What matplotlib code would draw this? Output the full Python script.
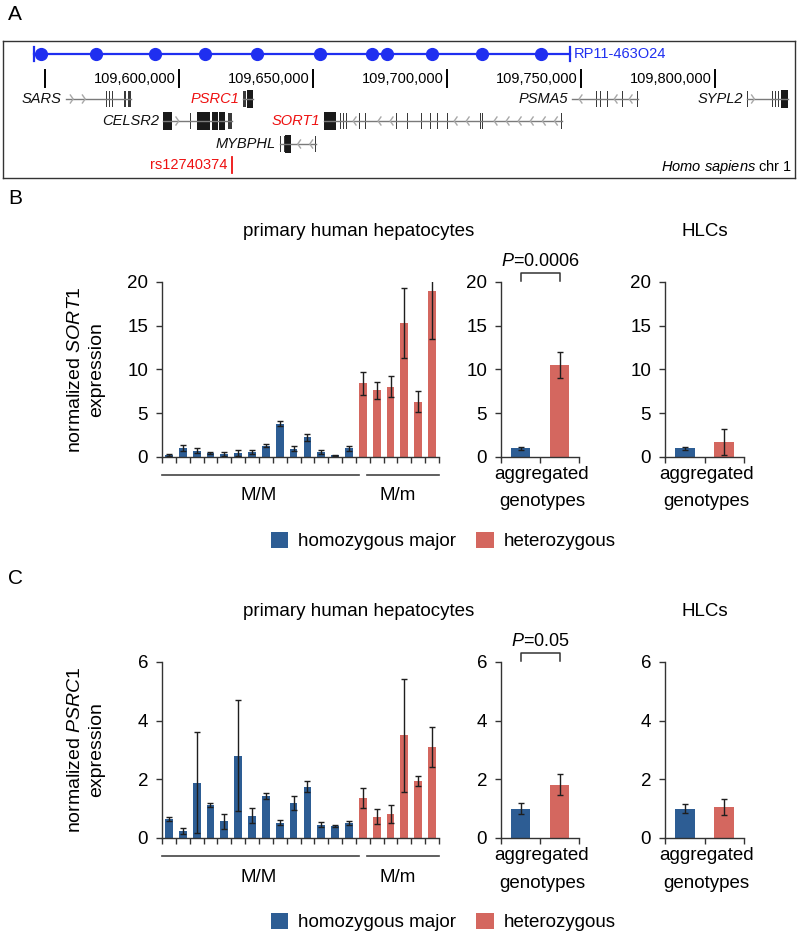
"""
SORT1 / PSRC1 locus figure: BAC track + expression bar charts by genotype.
"""

import numpy as np
import matplotlib
matplotlib.use("Agg")
import matplotlib.pyplot as plt
from matplotlib.patches import Rectangle, Patch
from matplotlib.transforms import blended_transform_factory

plt.rcParams['font.family'] = ['Liberation Sans', 'DejaVu Sans']
plt.rcParams['mathtext.fontset'] = 'custom'
plt.rcParams['mathtext.rm'] = 'Liberation Sans'
plt.rcParams['mathtext.it'] = 'Liberation Sans:italic'

W, H = 800, 934
BLUE = '#2d5d94'
RED = '#d4675f'
BAC_COLOR = '#1f2ff0'

# ---------------- panel A data (chr1, bp) ----------------
BAC_NAME = 'RP11-463O24'
BAC_START, BAC_END = 109545900, 109745900
BAC_PROBES = [109548500, 109569000, 109591000, 109609700, 109629100, 109652600,
              109672000, 109677600, 109694400, 109713100, 109735100]
SCALE_TICKS = [109550000, 109600000, 109650000, 109700000, 109750000, 109800000]

GENE_NAMES = ['SARS', 'CELSR2', 'PSRC1', 'MYBPHL', 'SORT1', 'PSMA5', 'SYPL2']
GENE_STRAND = [1, 1, 0, -1, -1, -1, 1]
GENE_ROW = [0, 1, 0, 2, 1, 0, 0]
GENE_HIGHLIGHT = [False, False, True, False, True, False, False]
GENE_EXONS = [
    [(109557700, 109558000), (109567400, 109567700), (109571500, 109571800),
     (109572700, 109573000), (109573800, 109574100), (109574900, 109575200),
     (109576000, 109576300), (109579300, 109580400), (109580800, 109582100)],
    [(109594000, 109597400), (109602100, 109602400), (109604000, 109604300),
     (109605100, 109605400), (109606600, 109611600), (109612300, 109614600),
     (109614900, 109617200), (109618300, 109619800)],
    [(109623900, 109624900), (109625300, 109627600)],
    [(109637600, 109637900), (109638300, 109638600), (109639100, 109639400),
     (109639700, 109641800), (109650900, 109651200)],
    [(109654100, 109658600), (109660000, 109660300), (109661100, 109661400),
     (109662200, 109662500), (109667100, 109667400), (109669300, 109669600),
     (109671500, 109671800), (109680900, 109681200), (109685000, 109685300),
     (109685700, 109686000), (109686800, 109687100), (109690200, 109690500),
     (109690900, 109691200), (109693600, 109693900), (109696200, 109696500),
     (109698000, 109698300), (109699900, 109700200), (109712200, 109712500),
     (109713000, 109713300), (109714800, 109715100), (109742500, 109742900)],
    [(109746500, 109746800), (109754700, 109755000), (109755500, 109755800),
     (109756200, 109756500), (109757000, 109757300), (109759600, 109759900),
     (109765200, 109765500), (109771000, 109771300)],
    [(109811900, 109812200), (109820400, 109820700), (109821200, 109821500),
     (109822300, 109822600), (109823400, 109823700), (109824600, 109827200)],
]
SNP_NAME = 'rs12740374'
SNP_POS = 109619800

# ---------------- panel B data: SORT1 ----------------
SORT1_MM = [0.25, 1.0, 0.7, 0.45, 0.35, 0.45, 0.6, 1.3, 3.8, 0.95, 2.25, 0.55, 0.2, 1.0]
SORT1_MM_ERR = [0.08, 0.35, 0.3, 0.08, 0.2, 0.3, 0.25, 0.2, 0.3, 0.3, 0.4, 0.2, 0.05, 0.3]
SORT1_Mm = [8.4, 7.6, 8.05, 15.3, 6.3, 19.0]
SORT1_Mm_ERR = [1.35, 1.0, 1.2, 4.0, 1.2, 5.5]
SORT1_AGG = [1.0, 10.5]
SORT1_AGG_ERR = [0.15, 1.5]
SORT1_HLC = [1.0, 1.75]
SORT1_HLC_ERR = [0.15, 1.5]
SORT1_P = '0.0006'

# ---------------- panel C data: PSRC1 ----------------
PSRC1_MM = [0.65, 0.25, 1.88, 1.12, 0.57, 2.81, 0.76, 1.43, 0.52, 1.19, 1.75, 0.46, 0.41, 0.5]
PSRC1_MM_ERR = [0.08, 0.1, 1.72, 0.06, 0.25, 1.9, 0.25, 0.1, 0.08, 0.24, 0.19, 0.1, 0.02, 0.07]
PSRC1_Mm = [1.36, 0.73, 0.83, 3.5, 1.95, 3.1]
PSRC1_Mm_ERR = [0.35, 0.25, 0.31, 1.93, 0.18, 0.68]
PSRC1_AGG = [1.0, 1.82]
PSRC1_AGG_ERR = [0.18, 0.35]
PSRC1_HLC = [1.0, 1.05]
PSRC1_HLC_ERR = [0.15, 0.27]
PSRC1_P = '0.05'

GROUP_LABELS = ['M/M', 'M/m']
LEGEND_LABELS = ['homozygous major', 'heterozygous']


def px_rect(left, top, right, bottom):
    return [left / W, 1 - bottom / H, (right - left) / W, (bottom - top) / H]


def fy(py):
    return 1 - py / H


fig = plt.figure(figsize=(W / 100, H / 100), dpi=100)

# ================= panel A =================
BP_PER_PX = 50000 / 134.0


def bp_at(px):
    return SCALE_TICKS[0] + (px - 45) * BP_PER_PX


ax_a = fig.add_axes(px_rect(3, 41, 795, 178))
ax_a.set_xlim(bp_at(3), bp_at(795))
ax_a.set_ylim(137, 0)
ax_a.set_xticks([])
ax_a.set_yticks([])
for s in ax_a.spines.values():
    s.set_color('#333333')
    s.set_linewidth(1)

fs_a = 10.5
# BAC clone
bac_y = 13
ax_a.plot([BAC_START, BAC_END], [bac_y, bac_y], color=BAC_COLOR, lw=1.6)
ax_a.plot(BAC_PROBES, [bac_y] * len(BAC_PROBES), 'o', color=BAC_COLOR, ms=8.5)
for x in (BAC_START, BAC_END):
    ax_a.plot([x, x], [bac_y - 7, bac_y + 7], color=BAC_COLOR, lw=1.6)
ax_a.text(BAC_END + 4 * BP_PER_PX, bac_y, BAC_NAME, color=BAC_COLOR,
          ha='left', va='center', fontsize=fs_a)

# coordinate scale
for i, t in enumerate(SCALE_TICKS):
    ax_a.plot([t, t], [29, 46], color='black', lw=1.4)
    if i > 0:
        ax_a.text(t - 3 * BP_PER_PX, 38, f'{t:,}', ha='right', va='center', fontsize=fs_a)

# genes
ROW_Y = [58, 80, 103]
chev_dx = 2.8 * BP_PER_PX
for name, strand, row, hl, exons in zip(GENE_NAMES, GENE_STRAND, GENE_ROW,
                                          GENE_HIGHLIGHT, GENE_EXONS):
    y = ROW_Y[row]
    g0 = min(e[0] for e in exons)
    g1 = max(e[1] for e in exons)
    ax_a.plot([g0, g1], [y, y], color='#7a7a7a', lw=1)
    # strand chevrons inside introns
    if strand != 0:
        for (a0, a1), (b0, b1) in zip(exons[:-1], exons[1:]):
            x = a1 + 2500
            while x < b0 - 1500:
                if strand > 0:
                    xs = [x - chev_dx, x, x - chev_dx]
                else:
                    xs = [x + chev_dx, x, x + chev_dx]
                ax_a.plot(xs, [y - 4, y, y + 4], color='#a8a8a8', lw=1)
                x += 4500
    for e0, e1 in exons:
        wide = (e1 - e0) > 1500
        h = 9 if wide else 8
        ax_a.add_patch(Rectangle((e0, y - h), e1 - e0, 2 * h,
                                 facecolor='#1a1a1a' if wide else '#3a3a3a',
                                 edgecolor='none'))
    ax_a.text(g0 - 4 * BP_PER_PX, y, name, ha='right', va='center', fontsize=fs_a,
              style='italic', color='#ee1111' if hl else '#111111')

# SNP
ax_a.plot([SNP_POS, SNP_POS], [116, 132], color='#ee1111', lw=1.3)
ax_a.text(SNP_POS - 5 * BP_PER_PX, 124, SNP_NAME, ha='right', va='center',
          fontsize=fs_a, color='#ee1111')
ax_a.text(bp_at(792), 126, r'$\mathit{Homo\ sapiens}$ chr 1', ha='right', va='center',
          fontsize=fs_a)

fig.text(8 / W, fy(14), 'A', fontsize=15, ha='left', va='center')

# ================= panels B and C =================
FS = 13.5


def style_axes(ax, ymax, ystep, nbars):
    ax.set_xlim(-0.5, nbars - 0.5)
    ax.set_ylim(0, ymax)
    ax.set_yticks(np.arange(0, ymax + ystep / 2, ystep))
    ax.set_xticks(np.arange(nbars + 1) - 0.5)
    ax.set_xticklabels([])
    for side in ('top', 'right'):
        ax.spines[side].set_visible(False)
    for side in ('left', 'bottom'):
        ax.spines[side].set_color('#333333')
        ax.spines[side].set_linewidth(1)
    ax.tick_params(axis='both', direction='out', length=4, width=1, color='#333333',
                   labelsize=FS, pad=6)
    ax.patch.set_alpha(0)


def bars(ax, values, errors, colors, width):
    x = np.arange(len(values))
    ax.bar(x, values, width=width, color=colors, yerr=errors,
           error_kw=dict(ecolor='#1e1e1e', elinewidth=1, capsize=2.5, capthick=1))


def draw_panel(top, bot, letter, gene, mm, mm_err, het, het_err, agg, agg_err,
               hlc, hlc_err, pval, ymax, ystep):
    h_px = bot - top
    # main per-donor chart
    ax = fig.add_axes(px_rect(162, top, 439, bot))
    vals = list(mm) + list(het)
    errs = list(mm_err) + list(het_err)
    cols = [BLUE] * len(mm) + [RED] * len(het)
    style_axes(ax, ymax, ystep, len(vals))
    bars(ax, vals, errs, cols, 0.56)

    tr = blended_transform_factory(ax.transData, ax.transAxes)
    y_line = -18 / h_px
    y_lab = -39 / h_px
    n1 = len(mm)
    spans = [(-0.5, n1 - 0.25), (n1 - 0.25 + 0.55, len(vals) - 0.5)]
    centers = [(n1 - 1) / 2, n1 + (len(het) - 1) / 2]
    for (a, b), c, lab in zip(spans, centers, GROUP_LABELS):
        ax.plot([a, b], [y_line, y_line], color='#444444', lw=1.2, transform=tr,
                clip_on=False)
        ax.text(c, y_lab, lab, transform=tr, ha='center', va='center', fontsize=FS)

    # aggregated + HLC charts
    for left, right, v, e in ((501, 579, agg, agg_err), (665, 744, hlc, hlc_err)):
        axs = fig.add_axes(px_rect(left, top, right, bot))
        style_axes(axs, ymax, ystep, 2)
        bars(axs, v, e, [BLUE, RED], 0.5)
        cx = (left + right) / 2 + 2
        fig.text(cx / W, fy(bot + 18), 'aggregated', ha='center', va='center', fontsize=FS)
        fig.text(cx / W, fy(bot + 45), 'genotypes', ha='center', va='center', fontsize=FS)
        if v is agg:
            trb = blended_transform_factory(axs.transData, axs.transAxes)
            yb = 1 + 9 / h_px
            axs.plot([0, 0, 1, 1], [1 + 1 / h_px, yb, yb, 1 + 1 / h_px], color='#333333',
                     lw=1.1, transform=trb, clip_on=False)
            axs.text(0.5, 1 + 21 / h_px, r'$\mathit{P}$=' + pval, transform=trb,
                     ha='center', va='center', fontsize=FS - 0.5)

    # titles, y label, letter
    fig.text(359 / W, fy(top - 50), 'primary human hepatocytes', ha='center',
             va='center', fontsize=FS)
    fig.text(705 / W, fy(top - 50), 'HLCs', ha='center', va='center', fontsize=FS)
    fig.text(86 / W, fy((top + bot) / 2),
             'normalized $\\mathit{' + gene + '}$\nexpression', rotation=90,
             ha='center', va='center', fontsize=FS + 0.5, multialignment='center',
             linespacing=1.3)
    fig.text(8 / W, fy(top - 84), letter, fontsize=15, ha='left', va='center')

    # legend
    handles = [Patch(facecolor=BLUE, edgecolor='none'), Patch(facecolor=RED, edgecolor='none')]
    fig.legend(handles, LEGEND_LABELS, ncol=2, loc='center',
               bbox_to_anchor=(443 / W, fy(bot + 84)), frameon=False, fontsize=FS,
               handlelength=0.95, handleheight=0.95, columnspacing=1.1,
               handletextpad=0.5, borderpad=0)


draw_panel(282, 457, 'B', 'SORT1', SORT1_MM, SORT1_MM_ERR, SORT1_Mm, SORT1_Mm_ERR,
           SORT1_AGG, SORT1_AGG_ERR, SORT1_HLC, SORT1_HLC_ERR, SORT1_P, 20, 5)
draw_panel(662, 838, 'C', 'PSRC1', PSRC1_MM, PSRC1_MM_ERR, PSRC1_Mm, PSRC1_Mm_ERR,
           PSRC1_AGG, PSRC1_AGG_ERR, PSRC1_HLC, PSRC1_HLC_ERR, PSRC1_P, 6, 2)

fig.savefig('out.png', dpi=100)
